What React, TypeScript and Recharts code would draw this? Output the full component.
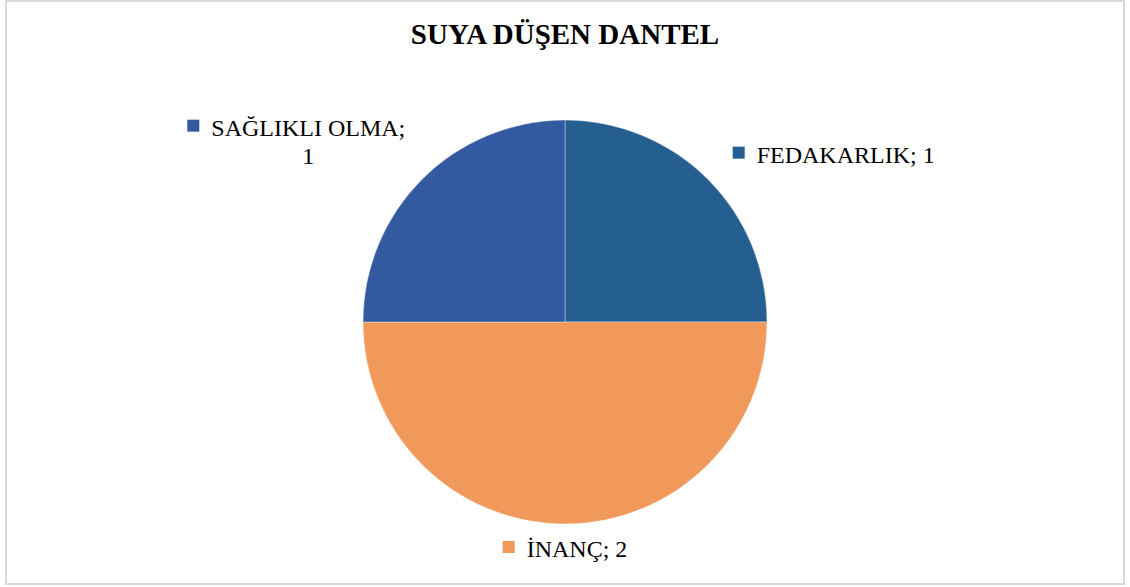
import * as React from "react"
import { PieChart, Pie, Cell } from "recharts"

// chart values
const categories = ["FEDAKARLIK", "İNANÇ", "SAĞLIKLI OLMA"]
const values = [1, 2, 1]
const sliceColors = ["#255E91", "#F0995A", "#335AA1"]
const title = "SUYA DÜŞEN DANTEL"

const data = categories.map((name, i) => ({ name, value: values[i] }))

const FONT = "'Liberation Serif', 'Times New Roman', serif"
const LABEL_SIZE = 24
const RADIAN = Math.PI / 180

let measureCtx: CanvasRenderingContext2D | null = null
const measure = (text: string) => {
  if (!measureCtx) {
    measureCtx = document.createElement("canvas").getContext("2d")
  }
  if (!measureCtx) return text.length * LABEL_SIZE * 0.5
  measureCtx.font = `${LABEL_SIZE}px ${FONT}`
  return measureCtx.measureText(text).width
}

const renderLabel = (props: any) => {
  const { cx, cy, midAngle, name, value, index } = props
  const cos = Math.cos(-midAngle * RADIAN)
  const sin = Math.sin(-midAngle * RADIAN)
  const full = `${name}; ${value}`
  // wrap long labels after the semicolon, like the original
  const wrap = measure(full) + 24 > 215
  const lines = wrap ? [`${name};`, `${value}`] : [full]
  const w1 = measure(lines[0])
  const blockW = 24 + w1
  const centerX = cx + cos * 380
  let baseY = cy + sin * 231 + 4
  if (wrap) baseY -= 27
  const left = centerX - blockW / 2
  const textX = left + 24
  return (
    <g key={`lbl-${index}`}>
      <rect x={left} y={baseY - 16} width={12} height={12} fill={sliceColors[index]} />
      <text x={textX} y={baseY} fontFamily={FONT} fontSize={LABEL_SIZE} fill="#000" textAnchor="start">
        {lines[0]}
      </text>
      {lines.slice(1).map((ln, i) => (
        <text
          key={i}
          x={textX + w1 / 2}
          y={baseY + 28 * (i + 1)}
          fontFamily={FONT}
          fontSize={LABEL_SIZE}
          fill="#000"
          textAnchor="middle"
        >
          {ln}
        </text>
      ))}
    </g>
  )
}

export default function App() {
  return (
    <div style={{ position: "fixed", left: 0, top: 0, width: 1130, height: 587, background: "#fff" }}>
      <div
        style={{
          position: "absolute",
          left: 5,
          top: 0,
          width: 1116,
          height: 581,
          border: "2px solid #d9d9d9",
        }}
      />
      <div
        style={{
          position: "absolute",
          left: 0,
          top: 18,
          width: 1130,
          textAlign: "center",
          fontFamily: FONT,
          fontWeight: "bold",
          fontSize: 29,
          lineHeight: "32px",
          color: "#000",
        }}
      >
        {title}
      </div>
      <div style={{ position: "absolute", left: 0, top: 0 }}>
        <PieChart width={1130} height={587} margin={{ top: 0, right: 0, bottom: 0, left: 0 }}>
          <Pie
            data={data}
            dataKey="value"
            nameKey="name"
            cx={565}
            cy={322}
            outerRadius={202}
            startAngle={90}
            endAngle={-270}
            stroke="#ffffff"
            strokeWidth={0.75}
            strokeOpacity={0.5}
            label={renderLabel}
            labelLine={false}
            isAnimationActive={false}
          >
            {data.map((d, i) => (
              <Cell key={d.name} fill={sliceColors[i]} />
            ))}
          </Pie>
        </PieChart>
      </div>
    </div>
  )
}
